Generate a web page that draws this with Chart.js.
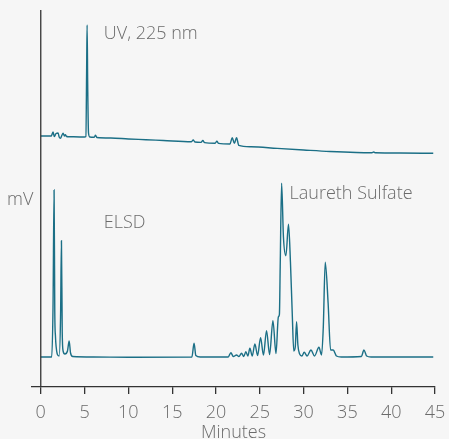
<!DOCTYPE html>
<html>
<head>
<meta charset="utf-8">
<script src="https://cdn.jsdelivr.net/npm/chart.js@4/dist/chart.umd.min.js"></script>
<style>
  html, body { margin: 0; padding: 0; background: #f6f6f6; }
  #wrap { width: 449px; height: 439px; position: relative; }
</style>
</head>
<body>
<div id="wrap"><canvas id="c" width="449" height="439"></canvas></div>
<script>
// Retention time (minutes) and detector response (mV, offset traces)
const uvTime = [0, 1.2, 1.4, 1.55, 1.75, 1.98, 2.1, 2.25, 2.4, 2.55, 2.7, 2.8, 2.95, 3.2, 5.0, 5.15, 5.24, 5.29, 5.36, 5.45, 5.6, 6.1, 6.25, 6.4, 8, 10, 12, 14, 17.2, 17.4, 17.6, 18.3, 18.5, 18.7, 19.9, 20.1, 20.3, 21.6, 21.85, 22.1, 22.35, 22.6, 24, 27, 30, 33, 36, 37.8, 38, 38.2, 41, 44.8];
const uvSignal = [251, 251, 255, 250.5, 253.5, 254, 250, 248.7, 251.5, 253.7, 251, 252.3, 250.5, 250.3, 250, 250.5, 320, 362, 300, 254, 250, 249.8, 251.8, 249.5, 249, 248, 247.3, 246.5, 245.3, 247, 245, 244.6, 246.5, 244.4, 243.8, 245.7, 243.6, 243, 249.3, 243.7, 249.3, 241.7, 240.3, 238.6, 237, 235.5, 234.5, 234.3, 235, 234.2, 234, 233.7];

const elsdTime = [0, 1.25, 1.4, 1.52, 1.6, 1.68, 1.76, 1.88, 2.1, 2.26, 2.36, 2.45, 2.55, 2.75, 3.05, 3.24, 3.4, 3.65, 6, 10, 17.25, 17.5, 17.7, 18.2, 21.4, 21.7, 21.98, 22.35, 22.62, 22.92, 23.17, 23.41, 23.64, 23.87, 24.14, 24.44, 24.75, 25.09, 25.42, 25.77, 26.12, 26.5, 26.85, 27.12, 27.24, 27.33, 27.49, 27.7, 27.98, 28.28, 28.5, 28.7, 28.88, 29.05, 29.2, 29.35, 29.55, 29.8, 30.07, 30.4, 30.84, 31.25, 31.75, 32.05, 32.25, 32.47, 32.8, 33.08, 33.38, 33.75, 34.3, 36.6, 36.89, 37.2, 37.7, 44.8];
const elsdSignal = [30, 30, 80, 197, 75, 50.3, 40, 33, 31, 70, 146.3, 55, 36, 33, 36, 46, 34, 30.5, 30, 29.8, 30, 43.7, 31.5, 30, 30, 34.3, 30.5, 32, 30.5, 33.7, 30.5, 35.3, 31, 38.7, 31, 43, 31.5, 49.3, 32, 56.3, 32.5, 66.3, 33.5, 70, 72.7, 120, 203.7, 150, 131.3, 162.7, 125, 75, 36, 40, 65.3, 42, 33, 31, 34.7, 31, 37, 31, 39.7, 32, 60, 124.7, 84, 37, 37, 31, 30, 30.5, 37, 31, 30, 30];

const xTicks = [0, 5, 10, 15, 20, 25, 30, 35, 40, 45];

const toPoints = (t, v) => t.map((x, i) => ({ x: x, y: v[i] }));

const textColor = '#6b6b6b';
const traceColor = '#1b6f86';
const fontFamily = '"Open Sans", "Liberation Sans", sans-serif';
const labelFont = '300 18px ' + fontFamily;

// Background, vertical axis at t = 0 and text labels
const decorations = {
  id: 'decorations',
  beforeDraw(chart) {
    const ctx = chart.ctx;
    ctx.save();
    ctx.fillStyle = '#f6f6f6';
    ctx.fillRect(0, 0, chart.width, chart.height);
    ctx.restore();
  },
  afterDraw(chart) {
    const ctx = chart.ctx;
    const xs = chart.scales.x, ys = chart.scales.y;
    const x0 = xs.getPixelForValue(0);
    ctx.save();
    ctx.strokeStyle = '#333333';
    ctx.lineWidth = 1.3;
    ctx.beginPath();
    ctx.moveTo(x0, ys.top);
    ctx.lineTo(x0, ys.bottom);
    ctx.stroke();

    ctx.fillStyle = textColor;
    ctx.font = labelFont;
    ctx.textBaseline = 'middle';
    ctx.textAlign = 'left';
    ctx.fillText('mV', 7, 200);
    ctx.fillText('UV, 225 nm', xs.getPixelForValue(7.2), ys.getPixelForValue(353));
    ctx.fillText('ELSD', xs.getPixelForValue(7.2), ys.getPixelForValue(164.5));
    ctx.fillText('Laureth Sulfate', xs.getPixelForValue(28.4), ys.getPixelForValue(193.5));
    ctx.restore();
  }
};

new Chart(document.getElementById('c'), {
  type: 'line',
  data: {
    datasets: [
      { label: 'UV, 225 nm', data: toPoints(uvTime, uvSignal) },
      { label: 'ELSD', data: toPoints(elsdTime, elsdSignal) }
    ].map(d => Object.assign(d, {
      borderColor: traceColor,
      borderWidth: 1.4,
      pointRadius: 0,
      fill: false,
      tension: 0,
      cubicInterpolationMode: 'monotone'
    }))
  },
  options: {
    responsive: false,
    animation: false,
    events: [],
    layout: { padding: { top: 10, right: 14, left: 0, bottom: 0 } },
    plugins: { legend: { display: false }, tooltip: { enabled: false } },
    scales: {
      x: {
        type: 'linear',
        min: -1,
        max: 45,
        afterBuildTicks(scale) { scale.ticks = xTicks.map(v => ({ value: v })); },
        afterFit(scale) {
          scale.height = 52;
          scale.paddingLeft = 0;
          scale.paddingRight = 0;
        },
        border: { display: true, color: '#333333', width: 1.3 },
        grid: { display: true, drawOnChartArea: false, drawTicks: true, tickLength: 7, color: '#333333', lineWidth: 1.3 },
        ticks: { color: textColor, font: { family: fontFamily, size: 18, weight: 300 }, padding: 8, maxRotation: 0, autoSkip: false },
        title: { display: true, text: 'Minutes', color: textColor, font: { family: fontFamily, size: 18, weight: 300 }, padding: { top: 0, bottom: -5 } }
      },
      y: {
        min: 0,
        max: 377,
        border: { display: false },
        grid: { display: false },
        ticks: { display: false },
        afterFit(scale) { scale.width = 32; }
      }
    }
  },
  plugins: [decorations]
});
</script>
</body>
</html>
